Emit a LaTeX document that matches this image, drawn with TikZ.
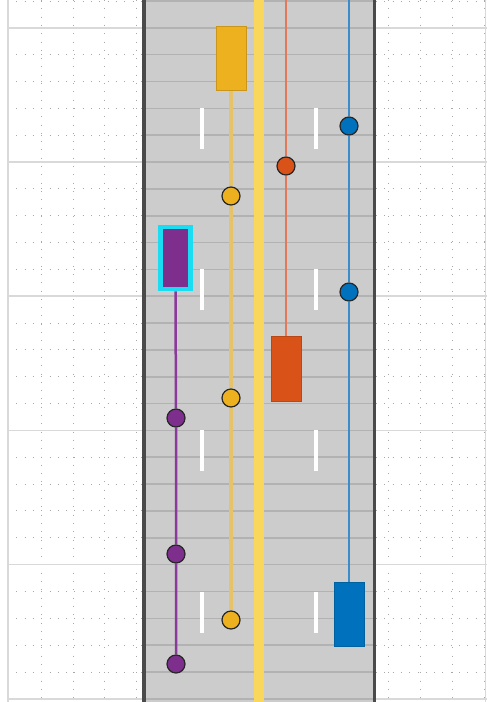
\documentclass[tikz,border=0pt]{standalone}
\usetikzlibrary{backgrounds}
\definecolor{vyellow}{HTML}{EDB120}
\definecolor{vorange}{HTML}{D95319}
\definecolor{vblue}{HTML}{0072BD}
\definecolor{vpurple}{HTML}{7E2F8E}
\definecolor{vcyan}{HTML}{1ADCF2}
\definecolor{lyellow}{HTML}{E6C26A}
\definecolor{lorange}{HTML}{E07A58}
\definecolor{lblue}{HTML}{3A8CCB}
\definecolor{lpurple}{HTML}{8A3A9A}
\definecolor{roadgray}{HTML}{CCCCCC}
\definecolor{roadline}{HTML}{B2B2B2}
\definecolor{centerline}{HTML}{F9D65C}
\definecolor{edgegray}{HTML}{4A4A4A}
\definecolor{majorgrid}{HTML}{D9D9D9}
\definecolor{minorgrid}{HTML}{A8A8A8}
\begin{document}
\begin{tikzpicture}[x=1pt,y=-1pt,
  veh/.style={rectangle, minimum width=30pt, minimum height=64pt, inner sep=0pt,
    draw=#1!85!black, line width=0.6pt, fill=#1},
  ego/.style={rectangle, minimum width=30pt, minimum height=62pt, inner sep=0pt,
    draw=vcyan, line width=4.5pt, fill=vpurple},
  dot/.style={circle, minimum size=18pt, inner sep=0pt, fill=#1,
    draw=black!85, line width=1.2pt},
  trail/.style={line width=2.5pt, draw=#1},
  minordot/.style={draw=minorgrid, line width=1pt, dash pattern=on 1pt off 7.3pt},
  major/.style={draw=majorgrid, line width=1.5pt},
  lanedash/.style={draw=white, line width=3.5pt},
]
\useasboundingbox (0,0) rectangle (487,702);

% vehicles and trajectory points
\node[veh=vyellow] (Y) at (231,58) {};
\node[dot=vyellow] (Y1) at (231,196) {};
\node[dot=vyellow] (Y2) at (231,398) {};
\node[dot=vyellow] (Y3) at (231,620) {};

\node[veh=vorange, minimum height=65pt] (O) at (286,368.5) {};
\node[dot=vorange] (O1) at (286,166) {};
\coordinate (Otop) at (286,0);

\node[veh=vblue] (B) at (349,614) {};
\node[dot=vblue] (B1) at (349,126) {};
\node[dot=vblue] (B2) at (349,292) {};
\coordinate (Btop) at (349,0);

\node[ego] (P) at (175.5,258) {};
\node[dot=vpurple] (P1) at (176,418) {};
\node[dot=vpurple] (P2) at (176,554) {};
\node[dot=vpurple] (P3) at (176,664) {};

\begin{pgfonlayer}{background}
  \fill[white] (0,0) rectangle (487,702);
  % grid on white area
  \foreach \k in {0,...,26} {
    \draw[minordot] (8,{1+26.84*\k}) -- (142,{1+26.84*\k});
    \draw[minordot] (376,{1+26.84*\k}) -- (487,{1+26.84*\k});
  }
  \foreach \x in {41.5,73,104.5,136,388,420,452,484} {
    \draw[minordot] (\x,0) -- (\x,702);
  }
  \foreach \k in {1,6,11,16,21,26} {
    \draw[major] (8,{1+26.84*\k}) -- (142,{1+26.84*\k});
    \draw[major] (376,{1+26.84*\k}) -- (487,{1+26.84*\k});
  }
  \draw[major] (8,0) -- (8,702);
  \draw[major] (485.5,0) -- (485.5,702);
  % road
  \fill[roadgray] (144,0) rectangle (374.5,702);
  \foreach \k in {0,...,26} {
    \draw[roadline, line width=1.6pt] (146,{1+26.84*\k}) -- (373,{1+26.84*\k});
  }
  \draw[edgegray, line width=3.5pt] (144,0) -- (144,702);
  \draw[edgegray, line width=3.5pt] (374.5,0) -- (374.5,702);
  \draw[centerline, line width=10pt] (259,0) -- (259,702);
  \foreach \y in {108,269.2,430.4,591.6} {
    \draw[lanedash] (202,\y) -- (202,\y+41);
    \draw[lanedash] (316,\y) -- (316,\y+41);
  }
  % trajectories
  \draw[trail=lyellow, line width=3.5pt] (Y.south) -- (Y1) -- (Y2) -- (Y3);
  \draw[trail=lorange] (Otop) -- (O1) -- (O.north);
  \draw[trail=lblue] (Btop) -- (B1) -- (B2) -- (B.north);
  \draw[trail=lpurple] (P.south) -- (P1) -- (P2) -- (P3);
\end{pgfonlayer}
\end{tikzpicture}
\end{document}
